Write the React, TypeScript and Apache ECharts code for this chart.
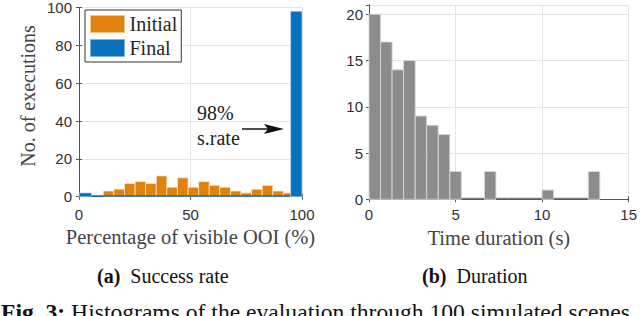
import React, { useEffect, useRef } from "react";
import * as echarts from "echarts";

// ---- data ----
const initialBinStart = [10.9, 15.65, 20.4, 25.15, 29.9, 34.65, 39.4, 44.15, 48.9, 53.65, 58.4, 63.15, 67.9, 72.65, 77.4, 82.15, 86.9, 91.65];
const initialBinWidth = 4.75;
const initialCounts = [3, 4, 7, 8, 7, 11, 5, 10, 5, 8, 6, 5, 3, 2, 4, 6, 3, 2];

const finalBinStart = [0, 5.6, 94.9];
const finalBinEnd = [5.6, 94.9, 100];
const finalCounts = [2, 0, 98];

const durationBinStart = [0, 0.667, 1.333, 2, 2.667, 3.333, 4, 4.667, 5.333, 6, 6.667, 7.333, 8, 8.667, 9.333, 10, 10.667, 11.333, 12, 12.667];
const durationBinWidth = 0.667;
const durationCounts = [20, 17, 14, 15, 9, 8, 7, 3, 0, 0, 3, 0, 0, 0, 0, 1, 0, 0, 0, 3];

const leftXTicks = { min: 0, max: 100, interval: 50 };
const leftYTicks = { min: 0, max: 100, interval: 20 };
const rightXTicks = { min: 0, max: 15, interval: 5 };
const rightYTicks = { min: 0, max: 21, interval: 5 };

const ORANGE = "#E1820E";
const BLUE = "#0A71BD";
const GRAY = "#8C8C8C";
const SERIF = "'Liberation Serif', 'Times New Roman', serif";
const SANS = "'Liberation Sans', Arial, sans-serif";
const AXIS = "#555555";
const GRID = "#E4E4E4";

function histItem(fill: string, edge: string, zeroColor: string) {
  return (params: any, api: any) => {
    const x0 = api.value(0);
    const x1 = api.value(1);
    const c = api.value(2);
    const p0 = api.coord([x0, c]);
    const p1 = api.coord([x1, 0]);
    if (c === 0) {
      return {
        type: "rect",
        shape: { x: p0[0], y: p1[1] - 1.5, width: p1[0] - p0[0], height: 1.5 },
        style: { fill: zeroColor },
      };
    }
    return {
      type: "rect",
      shape: { x: p0[0], y: p0[1], width: p1[0] - p0[0], height: p1[1] - p0[1] },
      style: { fill, stroke: edge, lineWidth: 1 },
    };
  };
}

export default function App() {
  const ref = useRef<HTMLDivElement>(null);
  useEffect(() => {
    if (!ref.current) return;
    const chart = echarts.init(ref.current, undefined, { renderer: "svg" });

    const initialData = initialBinStart.map((s, i) => [s, s + initialBinWidth, initialCounts[i]]);
    const finalData = finalBinStart.map((s, i) => [s, finalBinEnd[i], finalCounts[i]]);
    const durationData = durationBinStart.map((s, i) => [s, s + durationBinWidth, durationCounts[i]]);

    const tickLabel = { fontFamily: SANS, fontSize: 15, color: "#303030" };
    const boxLine = { show: true, lineStyle: { color: AXIS, width: 1 } };
    const inTick = { show: true, inside: true, length: 3, lineStyle: { color: AXIS } };

    const option: any = {
      animation: false,
      backgroundColor: "#ffffff",
      grid: [
        { left: 79, top: 5, width: 223, height: 191.7 },
        { left: 369, top: 5, width: 263, height: 194.3 },
      ],
      legend: {
        orient: "vertical",
        left: 85,
        top: 10,
        padding: [4, 4, 4, 5],
        itemGap: 4,
        itemWidth: 34,
        itemHeight: 17,
        itemTextGap: 5,
        borderColor: "#333",
        borderWidth: 1,
        borderRadius: 0,
        backgroundColor: "#fff",
        textStyle: { fontFamily: SERIF, fontSize: 20, color: "#262626" },
        data: [
          { name: "Initial", icon: "rect", itemStyle: { color: ORANGE, borderColor: "#f3c48a", borderWidth: 1 } },
          { name: "Final", icon: "rect", itemStyle: { color: BLUE, borderColor: "#7fb3dd", borderWidth: 1 } },
        ],
      },
      xAxis: [
        {
          gridIndex: 0, type: "value", position: "bottom", ...leftXTicks,
          axisLine: boxLine, axisTick: inTick,
          axisLabel: { ...tickLabel, margin: 10 },
          splitLine: { show: true, lineStyle: { color: GRID } },
          name: "Percentage of visible OOI (%)", nameLocation: "middle", nameGap: 26,
          nameTextStyle: { fontFamily: SERIF, fontSize: 20.5, color: "#444" },
        },
        {
          gridIndex: 0, type: "value", position: "top", ...leftXTicks,
          axisLine: boxLine, axisTick: inTick, axisLabel: { show: false }, splitLine: { show: false },
        },
        {
          gridIndex: 1, type: "value", position: "bottom", ...rightXTicks,
          axisLine: boxLine, axisTick: inTick,
          axisLabel: { ...tickLabel, margin: 8 },
          splitLine: { show: true, lineStyle: { color: GRID } },
          name: "Time duration (s)", nameLocation: "middle", nameGap: 25,
          nameTextStyle: { fontFamily: SERIF, fontSize: 20.5, color: "#444" },
        },
        {
          gridIndex: 1, type: "value", position: "top", ...rightXTicks,
          axisLine: boxLine, axisTick: inTick, axisLabel: { show: false }, splitLine: { show: false },
        },
      ],
      yAxis: [
        {
          gridIndex: 0, type: "value", position: "left", ...leftYTicks,
          axisLine: boxLine, axisTick: inTick,
          axisLabel: { ...tickLabel, margin: 7 },
          splitLine: { show: true, lineStyle: { color: GRID } },
        },
        {
          gridIndex: 0, type: "value", position: "right", ...leftYTicks,
          axisLine: boxLine, axisTick: inTick, axisLabel: { show: false }, splitLine: { show: false },
        },
        {
          gridIndex: 1, type: "value", position: "left", ...rightYTicks,
          axisLine: boxLine, axisTick: inTick,
          axisLabel: { ...tickLabel, margin: 6, showMaxLabel: false },
          splitLine: { show: true, lineStyle: { color: GRID } },
        },
        {
          gridIndex: 1, type: "value", position: "right", ...rightYTicks,
          axisLine: boxLine, axisTick: inTick, axisLabel: { show: false }, splitLine: { show: false },
        },
      ],
      series: [
        {
          name: "Initial", type: "custom", xAxisIndex: 0, yAxisIndex: 0,
          itemStyle: { color: ORANGE },
          encode: { x: [0, 1], y: 2 },
          renderItem: histItem(ORANGE, "rgba(255,235,205,0.7)", ORANGE),
          data: initialData,
        },
        {
          name: "Final", type: "custom", xAxisIndex: 0, yAxisIndex: 0,
          itemStyle: { color: BLUE },
          encode: { x: [0, 1], y: 2 },
          renderItem: histItem(BLUE, "rgba(200,225,245,0.6)", BLUE),
          data: finalData,
        },
        {
          name: "Duration", type: "custom", xAxisIndex: 2, yAxisIndex: 2,
          itemStyle: { color: GRAY },
          encode: { x: [0, 1], y: 2 },
          renderItem: histItem(GRAY, "rgba(215,215,215,0.9)", "#777"),
          data: durationData,
        },
      ],
      graphic: [
        {
          type: "text", x: 28, y: 96, rotation: Math.PI / 2,
          style: { text: "No. of executions", font: `20px ${SERIF}`, fill: "#444", align: "center", verticalAlign: "middle" },
        },
        {
          type: "text", x: 197, y: 113,
          style: { text: "98%", font: `20px ${SERIF}`, fill: "#222", align: "left", verticalAlign: "middle" },
        },
        {
          type: "text", x: 197, y: 138,
          style: { text: "s.rate", font: `20px ${SERIF}`, fill: "#222", align: "left", verticalAlign: "middle" },
        },
        {
          type: "line", shape: { x1: 242, y1: 129, x2: 276, y2: 129 },
          style: { stroke: "#111", lineWidth: 1.4 },
        },
        {
          type: "polygon", shape: { points: [[284, 129], [264, 124], [268, 129], [264, 134]] },
          style: { fill: "#111" },
        },
        {
          type: "text", x: 97, y: 276,
          style: {
            text: "{b|(a)}  Success rate",
            font: `20px ${SERIF}`, fill: "#111", align: "left", verticalAlign: "middle",
            rich: { b: { fontFamily: SERIF, fontSize: 20, fontWeight: "bold", fill: "#111" } },
          },
        },
        {
          type: "text", x: 422, y: 276,
          style: {
            text: "{b|(b)}  Duration",
            font: `20px ${SERIF}`, fill: "#111", align: "left", verticalAlign: "middle",
            rich: { b: { fontFamily: SERIF, fontSize: 20, fontWeight: "bold", fill: "#111" } },
          },
        },
        {
          type: "text", x: 1, y: 312,
          style: {
            text: "{b|Fig. 3:} Histograms of the evaluation through 100 simulated scenes",
            font: `23.6px ${SERIF}`, fill: "#111", align: "left", verticalAlign: "middle",
            rich: { b: { fontFamily: SERIF, fontSize: 23.6, fontWeight: "bold", fill: "#111" } },
          },
        },
      ],
    };
    chart.setOption(option);
    return () => chart.dispose();
  }, []);

  return (
    <div
      ref={ref}
      style={{ position: "fixed", left: 0, top: 0, width: 640, height: 316, background: "#fff" }}
    />
  );
}
